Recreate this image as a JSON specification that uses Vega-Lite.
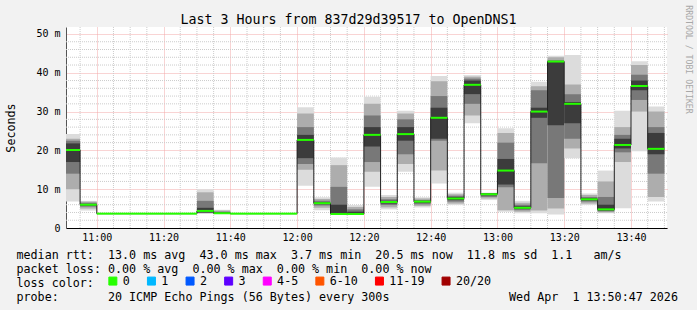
{
"$schema": "https://vega.github.io/schema/vega-lite/v6.json",
"width": 601, "height": 201,
"autosize": "none",
"padding": {"left": 66, "top": 27, "right": 30, "bottom": 82},
"background": "#f2f2f2",
"title": {"text": "Last 3 Hours from 837d29d39517 to OpenDNS1", "font": "DejaVu Sans Mono", "fontSize": 13.3, "fontWeight": "normal", "color": "#000", "anchor": "middle", "frame": "group", "dx": -18, "dy": 35.5, "offset": 3, "baseline": "alphabetic"},
"config": {"view": {"fill": "white", "stroke": null}},
"datasets": {
"gx": [{"t":"2026-04-01T10:55"},{"t":"2026-04-01T11:05"},{"t":"2026-04-01T11:10"},{"t":"2026-04-01T11:15"},{"t":"2026-04-01T11:25"},{"t":"2026-04-01T11:30"},{"t":"2026-04-01T11:35"},{"t":"2026-04-01T11:45"},{"t":"2026-04-01T11:50"},{"t":"2026-04-01T11:55"},{"t":"2026-04-01T12:05"},{"t":"2026-04-01T12:10"},{"t":"2026-04-01T12:15"},{"t":"2026-04-01T12:25"},{"t":"2026-04-01T12:30"},{"t":"2026-04-01T12:35"},{"t":"2026-04-01T12:45"},{"t":"2026-04-01T12:50"},{"t":"2026-04-01T12:55"},{"t":"2026-04-01T13:05"},{"t":"2026-04-01T13:10"},{"t":"2026-04-01T13:15"},{"t":"2026-04-01T13:25"},{"t":"2026-04-01T13:30"},{"t":"2026-04-01T13:35"},{"t":"2026-04-01T13:45"},{"t":"2026-04-01T13:50"}],
"gy": [{"y":2},{"y":4},{"y":6},{"y":8},{"y":12},{"y":14},{"y":16},{"y":18},{"y":22},{"y":24},{"y":26},{"y":28},{"y":32},{"y":34},{"y":36},{"y":38},{"y":42},{"y":44},{"y":46},{"y":48}],
"smoke": [
{"t":"2026-04-01T10:50","t2":"2026-04-01T10:55","b":0,"y":6.8,"y2":24.2},
{"t":"2026-04-01T10:50","t2":"2026-04-01T10:55","b":1,"y":10,"y2":23},
{"t":"2026-04-01T10:50","t2":"2026-04-01T10:55","b":2,"y":14,"y2":22.5},
{"t":"2026-04-01T10:50","t2":"2026-04-01T10:55","b":3,"y":17,"y2":21.8},
{"t":"2026-04-01T10:55","t2":"2026-04-01T11:00","b":0,"y":4.5,"y2":7.0},
{"t":"2026-04-01T10:55","t2":"2026-04-01T11:00","b":1,"y":5.0,"y2":6.8},
{"t":"2026-04-01T10:55","t2":"2026-04-01T11:00","b":2,"y":5.5,"y2":6.5},
{"t":"2026-04-01T10:55","t2":"2026-04-01T11:00","b":3,"y":5.8,"y2":6.2},
{"t":"2026-04-01T11:30","t2":"2026-04-01T11:35","b":0,"y":3.7,"y2":10.0},
{"t":"2026-04-01T11:30","t2":"2026-04-01T11:35","b":1,"y":3.8,"y2":9.2},
{"t":"2026-04-01T11:30","t2":"2026-04-01T11:35","b":2,"y":3.9,"y2":7.0},
{"t":"2026-04-01T11:30","t2":"2026-04-01T11:35","b":3,"y":4.0,"y2":5.2},
{"t":"2026-04-01T11:35","t2":"2026-04-01T11:40","b":0,"y":3.7,"y2":4.7},
{"t":"2026-04-01T11:35","t2":"2026-04-01T11:40","b":1,"y":3.7,"y2":4.5},
{"t":"2026-04-01T11:35","t2":"2026-04-01T11:40","b":2,"y":3.7,"y2":4.2},
{"t":"2026-04-01T11:35","t2":"2026-04-01T11:40","b":3,"y":3.7,"y2":4.0},
{"t":"2026-04-01T12:00","t2":"2026-04-01T12:05","b":0,"y":10.9,"y2":31.1},
{"t":"2026-04-01T12:00","t2":"2026-04-01T12:05","b":1,"y":15,"y2":29.5},
{"t":"2026-04-01T12:00","t2":"2026-04-01T12:05","b":2,"y":16.5,"y2":26},
{"t":"2026-04-01T12:00","t2":"2026-04-01T12:05","b":3,"y":18,"y2":24},
{"t":"2026-04-01T12:05","t2":"2026-04-01T12:10","b":0,"y":4.6,"y2":7.9},
{"t":"2026-04-01T12:05","t2":"2026-04-01T12:10","b":1,"y":5.2,"y2":7.5},
{"t":"2026-04-01T12:05","t2":"2026-04-01T12:10","b":2,"y":5.8,"y2":7.0},
{"t":"2026-04-01T12:05","t2":"2026-04-01T12:10","b":3,"y":6.1,"y2":6.7},
{"t":"2026-04-01T12:10","t2":"2026-04-01T12:15","b":0,"y":3.6,"y2":18.2},
{"t":"2026-04-01T12:10","t2":"2026-04-01T12:15","b":1,"y":3.6,"y2":16.2},
{"t":"2026-04-01T12:10","t2":"2026-04-01T12:15","b":2,"y":3.6,"y2":10.6},
{"t":"2026-04-01T12:10","t2":"2026-04-01T12:15","b":3,"y":3.6,"y2":6.0},
{"t":"2026-04-01T12:15","t2":"2026-04-01T12:20","b":0,"y":3.6,"y2":5.9},
{"t":"2026-04-01T12:15","t2":"2026-04-01T12:20","b":1,"y":3.6,"y2":5.4},
{"t":"2026-04-01T12:15","t2":"2026-04-01T12:20","b":2,"y":3.6,"y2":4.8},
{"t":"2026-04-01T12:15","t2":"2026-04-01T12:20","b":3,"y":3.6,"y2":4.2},
{"t":"2026-04-01T12:20","t2":"2026-04-01T12:25","b":0,"y":10.6,"y2":33.8},
{"t":"2026-04-01T12:20","t2":"2026-04-01T12:25","b":1,"y":14.5,"y2":32},
{"t":"2026-04-01T12:20","t2":"2026-04-01T12:25","b":2,"y":17,"y2":29},
{"t":"2026-04-01T12:20","t2":"2026-04-01T12:25","b":3,"y":21,"y2":26},
{"t":"2026-04-01T12:25","t2":"2026-04-01T12:30","b":0,"y":4.8,"y2":8.5},
{"t":"2026-04-01T12:25","t2":"2026-04-01T12:30","b":1,"y":5.3,"y2":8.0},
{"t":"2026-04-01T12:25","t2":"2026-04-01T12:30","b":2,"y":5.9,"y2":7.4},
{"t":"2026-04-01T12:25","t2":"2026-04-01T12:30","b":3,"y":6.3,"y2":7.0},
{"t":"2026-04-01T12:30","t2":"2026-04-01T12:35","b":0,"y":14.5,"y2":30.2},
{"t":"2026-04-01T12:30","t2":"2026-04-01T12:35","b":1,"y":16.5,"y2":29.5},
{"t":"2026-04-01T12:30","t2":"2026-04-01T12:35","b":2,"y":19,"y2":28},
{"t":"2026-04-01T12:30","t2":"2026-04-01T12:35","b":3,"y":22.5,"y2":26},
{"t":"2026-04-01T12:35","t2":"2026-04-01T12:40","b":0,"y":5.3,"y2":7.9},
{"t":"2026-04-01T12:35","t2":"2026-04-01T12:40","b":1,"y":5.7,"y2":7.6},
{"t":"2026-04-01T12:35","t2":"2026-04-01T12:40","b":2,"y":6.1,"y2":7.2},
{"t":"2026-04-01T12:35","t2":"2026-04-01T12:40","b":3,"y":6.5,"y2":7.0},
{"t":"2026-04-01T12:40","t2":"2026-04-01T12:45","b":0,"y":11.5,"y2":39.2},
{"t":"2026-04-01T12:40","t2":"2026-04-01T12:45","b":1,"y":14.8,"y2":37.8},
{"t":"2026-04-01T12:40","t2":"2026-04-01T12:45","b":2,"y":22.5,"y2":34},
{"t":"2026-04-01T12:40","t2":"2026-04-01T12:45","b":3,"y":23,"y2":31},
{"t":"2026-04-01T12:45","t2":"2026-04-01T12:50","b":0,"y":5.9,"y2":9.1},
{"t":"2026-04-01T12:45","t2":"2026-04-01T12:50","b":1,"y":6.3,"y2":8.7},
{"t":"2026-04-01T12:45","t2":"2026-04-01T12:50","b":2,"y":6.8,"y2":8.3},
{"t":"2026-04-01T12:45","t2":"2026-04-01T12:50","b":3,"y":7.2,"y2":8.0},
{"t":"2026-04-01T12:50","t2":"2026-04-01T12:55","b":0,"y":27,"y2":39.4},
{"t":"2026-04-01T12:50","t2":"2026-04-01T12:55","b":1,"y":29,"y2":39},
{"t":"2026-04-01T12:50","t2":"2026-04-01T12:55","b":2,"y":32,"y2":38.5},
{"t":"2026-04-01T12:50","t2":"2026-04-01T12:55","b":3,"y":34.5,"y2":38},
{"t":"2026-04-01T12:55","t2":"2026-04-01T13:00","b":0,"y":7.2,"y2":9.1},
{"t":"2026-04-01T12:55","t2":"2026-04-01T13:00","b":1,"y":7.6,"y2":9.0},
{"t":"2026-04-01T12:55","t2":"2026-04-01T13:00","b":2,"y":8.0,"y2":8.9},
{"t":"2026-04-01T12:55","t2":"2026-04-01T13:00","b":3,"y":8.4,"y2":8.9},
{"t":"2026-04-01T13:00","t2":"2026-04-01T13:05","b":0,"y":4.2,"y2":25.7},
{"t":"2026-04-01T13:00","t2":"2026-04-01T13:05","b":1,"y":4.6,"y2":24.5},
{"t":"2026-04-01T13:00","t2":"2026-04-01T13:05","b":2,"y":10.5,"y2":22},
{"t":"2026-04-01T13:00","t2":"2026-04-01T13:05","b":3,"y":11.2,"y2":17.8},
{"t":"2026-04-01T13:05","t2":"2026-04-01T13:10","b":0,"y":3.8,"y2":7.0},
{"t":"2026-04-01T13:05","t2":"2026-04-01T13:10","b":1,"y":4.2,"y2":6.5},
{"t":"2026-04-01T13:05","t2":"2026-04-01T13:10","b":2,"y":4.6,"y2":6.0},
{"t":"2026-04-01T13:05","t2":"2026-04-01T13:10","b":3,"y":4.9,"y2":5.6},
{"t":"2026-04-01T13:10","t2":"2026-04-01T13:15","b":0,"y":3.8,"y2":37.7},
{"t":"2026-04-01T13:10","t2":"2026-04-01T13:15","b":1,"y":4.5,"y2":36.5},
{"t":"2026-04-01T13:10","t2":"2026-04-01T13:15","b":2,"y":16.7,"y2":35.5},
{"t":"2026-04-01T13:10","t2":"2026-04-01T13:15","b":3,"y":28.4,"y2":31},
{"t":"2026-04-01T13:15","t2":"2026-04-01T13:20","b":0,"y":3.5,"y2":44.4},
{"t":"2026-04-01T13:15","t2":"2026-04-01T13:20","b":1,"y":5,"y2":44},
{"t":"2026-04-01T13:15","t2":"2026-04-01T13:20","b":2,"y":7.7,"y2":43.2},
{"t":"2026-04-01T13:15","t2":"2026-04-01T13:20","b":3,"y":26.5,"y2":42.9},
{"t":"2026-04-01T13:20","t2":"2026-04-01T13:25","b":0,"y":18,"y2":44.6},
{"t":"2026-04-01T13:20","t2":"2026-04-01T13:25","b":1,"y":20.5,"y2":37},
{"t":"2026-04-01T13:20","t2":"2026-04-01T13:25","b":2,"y":23,"y2":34.5},
{"t":"2026-04-01T13:20","t2":"2026-04-01T13:25","b":3,"y":27,"y2":32.5},
{"t":"2026-04-01T13:25","t2":"2026-04-01T13:30","b":0,"y":5.9,"y2":8.9},
{"t":"2026-04-01T13:25","t2":"2026-04-01T13:30","b":1,"y":6.3,"y2":8.5},
{"t":"2026-04-01T13:25","t2":"2026-04-01T13:30","b":2,"y":6.8,"y2":8.0},
{"t":"2026-04-01T13:25","t2":"2026-04-01T13:30","b":3,"y":7.1,"y2":7.7},
{"t":"2026-04-01T13:30","t2":"2026-04-01T13:35","b":0,"y":3.8,"y2":14.8},
{"t":"2026-04-01T13:30","t2":"2026-04-01T13:35","b":1,"y":4.0,"y2":12},
{"t":"2026-04-01T13:30","t2":"2026-04-01T13:35","b":2,"y":4.3,"y2":8},
{"t":"2026-04-01T13:30","t2":"2026-04-01T13:35","b":3,"y":4.5,"y2":6},
{"t":"2026-04-01T13:35","t2":"2026-04-01T13:40","b":0,"y":5.1,"y2":30.2},
{"t":"2026-04-01T13:35","t2":"2026-04-01T13:40","b":1,"y":17,"y2":26},
{"t":"2026-04-01T13:35","t2":"2026-04-01T13:40","b":2,"y":19.5,"y2":24},
{"t":"2026-04-01T13:35","t2":"2026-04-01T13:40","b":3,"y":20.5,"y2":23},
{"t":"2026-04-01T13:40","t2":"2026-04-01T13:45","b":0,"y":19.8,"y2":43},
{"t":"2026-04-01T13:40","t2":"2026-04-01T13:45","b":1,"y":30,"y2":42},
{"t":"2026-04-01T13:40","t2":"2026-04-01T13:45","b":2,"y":33,"y2":39.5},
{"t":"2026-04-01T13:40","t2":"2026-04-01T13:45","b":3,"y":35.5,"y2":38},
{"t":"2026-04-01T13:45","t2":"2026-04-01T13:50","b":0,"y":6.8,"y2":31.3},
{"t":"2026-04-01T13:45","t2":"2026-04-01T13:50","b":1,"y":8,"y2":30},
{"t":"2026-04-01T13:45","t2":"2026-04-01T13:50","b":2,"y":14,"y2":26},
{"t":"2026-04-01T13:45","t2":"2026-04-01T13:50","b":3,"y":19,"y2":24.5}
],
"med": [
{"t":"2026-04-01T10:50","t2":"2026-04-01T10:55","y":20.1,"loss":"0"},
{"t":"2026-04-01T10:55","t2":"2026-04-01T11:00","y":6.0,"loss":"0"},
{"t":"2026-04-01T11:00","t2":"2026-04-01T11:05","y":3.7,"loss":"0"},
{"t":"2026-04-01T11:05","t2":"2026-04-01T11:10","y":3.7,"loss":"0"},
{"t":"2026-04-01T11:10","t2":"2026-04-01T11:15","y":3.7,"loss":"0"},
{"t":"2026-04-01T11:15","t2":"2026-04-01T11:20","y":3.7,"loss":"0"},
{"t":"2026-04-01T11:20","t2":"2026-04-01T11:25","y":3.7,"loss":"0"},
{"t":"2026-04-01T11:25","t2":"2026-04-01T11:30","y":3.7,"loss":"0"},
{"t":"2026-04-01T11:30","t2":"2026-04-01T11:35","y":4.4,"loss":"0"},
{"t":"2026-04-01T11:35","t2":"2026-04-01T11:40","y":3.8,"loss":"0"},
{"t":"2026-04-01T11:40","t2":"2026-04-01T11:45","y":3.7,"loss":"0"},
{"t":"2026-04-01T11:45","t2":"2026-04-01T11:50","y":3.7,"loss":"0"},
{"t":"2026-04-01T11:50","t2":"2026-04-01T11:55","y":3.7,"loss":"0"},
{"t":"2026-04-01T11:55","t2":"2026-04-01T12:00","y":3.7,"loss":"0"},
{"t":"2026-04-01T12:00","t2":"2026-04-01T12:05","y":22.7,"loss":"0"},
{"t":"2026-04-01T12:05","t2":"2026-04-01T12:10","y":6.4,"loss":"0"},
{"t":"2026-04-01T12:10","t2":"2026-04-01T12:15","y":3.6,"loss":"0"},
{"t":"2026-04-01T12:15","t2":"2026-04-01T12:20","y":3.6,"loss":"0"},
{"t":"2026-04-01T12:20","t2":"2026-04-01T12:25","y":24.0,"loss":"0"},
{"t":"2026-04-01T12:25","t2":"2026-04-01T12:30","y":6.7,"loss":"0"},
{"t":"2026-04-01T12:30","t2":"2026-04-01T12:35","y":24.2,"loss":"0"},
{"t":"2026-04-01T12:35","t2":"2026-04-01T12:40","y":6.8,"loss":"0"},
{"t":"2026-04-01T12:40","t2":"2026-04-01T12:45","y":28.4,"loss":"0"},
{"t":"2026-04-01T12:45","t2":"2026-04-01T12:50","y":7.6,"loss":"0"},
{"t":"2026-04-01T12:50","t2":"2026-04-01T12:55","y":36.9,"loss":"0"},
{"t":"2026-04-01T12:55","t2":"2026-04-01T13:00","y":8.7,"loss":"0"},
{"t":"2026-04-01T13:00","t2":"2026-04-01T13:05","y":14.8,"loss":"0"},
{"t":"2026-04-01T13:05","t2":"2026-04-01T13:10","y":5.2,"loss":"0"},
{"t":"2026-04-01T13:10","t2":"2026-04-01T13:15","y":30.0,"loss":"0"},
{"t":"2026-04-01T13:15","t2":"2026-04-01T13:20","y":42.9,"loss":"0"},
{"t":"2026-04-01T13:20","t2":"2026-04-01T13:25","y":32.0,"loss":"0"},
{"t":"2026-04-01T13:25","t2":"2026-04-01T13:30","y":7.4,"loss":"0"},
{"t":"2026-04-01T13:30","t2":"2026-04-01T13:35","y":4.8,"loss":"0"},
{"t":"2026-04-01T13:35","t2":"2026-04-01T13:40","y":21.4,"loss":"0"},
{"t":"2026-04-01T13:40","t2":"2026-04-01T13:45","y":36.6,"loss":"0"},
{"t":"2026-04-01T13:45","t2":"2026-04-01T13:50","y":20.4,"loss":"0"}
]
},
"layer": [
{"data": {"name": "gx"}, "mark": {"type": "rule", "color": "#cccccc", "strokeWidth": 1, "strokeDash": [1, 1]},
 "encoding": {
  "x": {"field": "t", "type": "temporal",
   "scale": {"domain": ["2026-04-01T10:50:47", "2026-04-01T13:50:47"]},
   "axis": {
    "values": [{"year":2026,"month":4,"date":1,"hours":11,"minutes":0},{"year":2026,"month":4,"date":1,"hours":11,"minutes":20},{"year":2026,"month":4,"date":1,"hours":11,"minutes":40},{"year":2026,"month":4,"date":1,"hours":12,"minutes":0},{"year":2026,"month":4,"date":1,"hours":12,"minutes":20},{"year":2026,"month":4,"date":1,"hours":12,"minutes":40},{"year":2026,"month":4,"date":1,"hours":13,"minutes":0},{"year":2026,"month":4,"date":1,"hours":13,"minutes":20},{"year":2026,"month":4,"date":1,"hours":13,"minutes":40}],
    "format": "%H:%M",
    "grid": true, "gridColor": "#f2a8a8", "gridDash": [1, 1],
    "ticks": false, "domainColor": "#000",
    "labelOverlap": false, "labelFlush": false,
    "labelFont": "DejaVu Sans Mono", "labelFontSize": 10, "labelColor": "#000", "labelPadding": 4,
    "title": ["median\u00a0rtt:\u00a0\u00a013.0\u00a0ms\u00a0avg\u00a0\u00a043.0\u00a0ms\u00a0max\u00a0\u00a03.7\u00a0ms\u00a0min\u00a0\u00a020.5\u00a0ms\u00a0now\u00a0\u00a011.8\u00a0ms\u00a0sd\u00a0\u00a01.1\u00a0\u00a0\u00a0am/s",
              "packet\u00a0loss:\u00a00.00\u00a0%\u00a0avg\u00a0\u00a00.00\u00a0%\u00a0max\u00a0\u00a00.00\u00a0%\u00a0min\u00a0\u00a00.00\u00a0%\u00a0now",
              "loss\u00a0color:",
              "probe:\u00a0\u00a0\u00a0\u00a0\u00a0\u00a0\u00a020\u00a0ICMP\u00a0Echo\u00a0Pings\u00a0(56\u00a0Bytes)\u00a0every\u00a0300s\u00a0\u00a0\u00a0\u00a0\u00a0\u00a0\u00a0\u00a0\u00a0\u00a0\u00a0\u00a0\u00a0\u00a0\u00a0\u00a0\u00a0Wed\u00a0Apr\u00a0\u00a01\u00a013:50:47\u00a02026"],
    "titleFont": "DejaVu Sans Mono", "titleFontSize": 11.7, "titleFontWeight": "normal", "titleColor": "#000",
    "titleAnchor": "start", "titleAlign": "left", "titleX": -50, "titleY": 30, "titleBaseline": "alphabetic", "titleLineHeight": 14
   }}
 }},
{"data": {"name": "gy"}, "mark": {"type": "rule", "color": "#cccccc", "strokeWidth": 1, "strokeDash": [1, 1]},
 "encoding": {
  "y": {"field": "y", "type": "quantitative", "scale": {"domain": [0, 51.8], "nice": false}, "axis": null}
 }},
{"data": {"name": "smoke"}, "mark": {"type": "rect", "clip": true},
 "encoding": {
  "x": {"field": "t", "type": "temporal"},
  "x2": {"field": "t2"},
  "y": {"field": "y", "type": "quantitative", "scale": {"domain": [0, 51.8], "nice": false}, "axis": null},
  "y2": {"field": "y2"},
  "fill": {"field": "b", "type": "ordinal", "scale": {"domain": [0,1,2,3], "range": ["#dcdcdc", "#adadad", "#787878", "#3c3c3c"]}, "legend": null}
 }},
{"data": {"name": "med"}, "mark": {"type": "line", "interpolate": "step-after", "color": "#222", "strokeWidth": 1, "clip": true},
 "encoding": {
  "x": {"field": "t", "type": "temporal"},
  "y": {"field": "y", "type": "quantitative", "scale": {"domain": [0, 51.8], "nice": false},
   "axis": {"orient": "left", "values": [0, 10, 20, 30, 40, 50],
    "grid": true, "gridColor": "#f2a8a8", "gridDash": [1, 1],
    "ticks": false, "domainColor": "#555",
    "labelExpr": "datum.value === 0 ? '0' : datum.value + ' m'",
    "labelOverlap": false, "labelFlush": false,
    "labelFont": "DejaVu Sans Mono", "labelFontSize": 10, "labelColor": "#000", "labelPadding": 6,
    "title": "Seconds", "titleFont": "DejaVu Sans Mono", "titleFontSize": 11.7, "titleFontWeight": "normal", "titleColor": "#000",
    "titleAngle": -90, "titleX": -56, "titleY": 100.5, "titleAlign": "center", "titleBaseline": "middle"}}
 }},
{"data": {"name": "med"}, "mark": {"type": "rule", "strokeWidth": 2, "clip": true},
 "encoding": {
  "x": {"field": "t", "type": "temporal"},
  "x2": {"field": "t2"},
  "y": {"field": "y", "type": "quantitative", "scale": {"domain": [0, 51.8], "nice": false},
   "axis": {"orient": "right", "labels": false, "ticks": false, "domain": false, "grid": false,
    "title": "RRDTOOL / TOBI OETIKER", "titleFont": "DejaVu Sans Mono", "titleFontSize": 8.2, "titleFontWeight": "normal", "titleColor": "#a8a8a8",
    "titleAngle": 90, "titleX": 20, "titleY": 32, "titleAlign": "center", "titleBaseline": "middle"}},
  "color": {"field": "loss", "type": "nominal",
   "scale": {"domain": ["0","1","2","3","4-5","6-10","11-19","20/20"], "range": ["#26ff00","#00b8ff","#0059ff","#5e00ff","#ff00ff","#ff5500","#ff0000","#a10000"]},
   "legend": {"title": null, "orient": "none", "legendX": 41, "legendY": 248, "direction": "horizontal", "columns": 8,
    "labelFont": "DejaVu Sans Mono", "labelFontSize": 11.7, "labelColor": "#000", "labelOffset": 4,
    "symbolType": "square", "symbolSize": 64, "symbolStrokeColor": "#000", "symbolStrokeWidth": 1, "columnPadding": 14.6, "padding": 0,
    "encode": {"symbols": {"update": {"fill": {"scale": "color", "field": "value"}, "stroke": {"value": "#000"}, "strokeWidth": {"value": 1}, "opacity": {"value": 1}, "fillOpacity": {"value": 1}}}}}}
 }}
],
"resolve": {"axis": {"y": "independent"}}
}
